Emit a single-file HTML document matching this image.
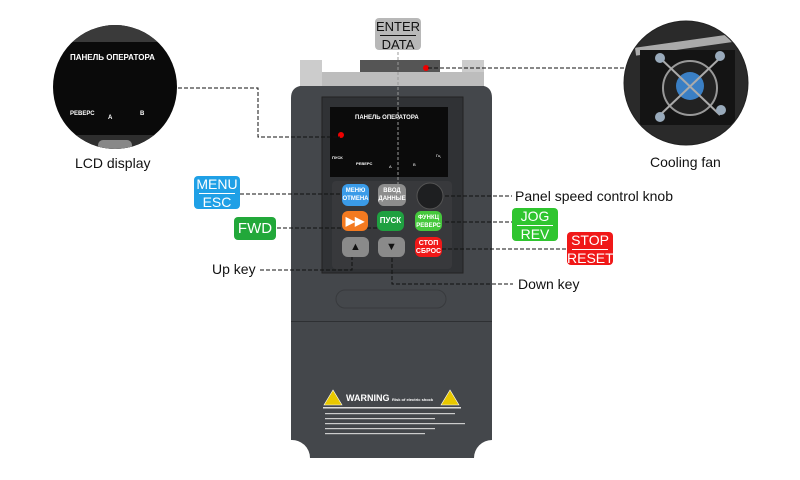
<!DOCTYPE html>
<html><head><meta charset="utf-8"><style>
*{margin:0;padding:0;box-sizing:border-box}
body{width:800px;height:480px;background:#fff;position:relative;overflow:hidden;font-family:"Liberation Sans",Arial,sans-serif}
.a{position:absolute}
.badge{position:absolute;border-radius:4px;color:#fff;font-size:14px;text-align:center;line-height:15px;padding-top:1px}
.badge hr{border:0;border-top:1px solid #fff;margin:1px 5px}
.lbl{position:absolute;font-size:14px;color:#111;white-space:nowrap}
.btn{position:absolute;border-radius:6px;color:#fff;font-weight:bold;text-align:center;font-size:6px;line-height:8px}
</style></head><body>
<svg class="a" style="left:0;top:0" width="800" height="480" viewBox="0 0 800 480">
<defs>
<clipPath id="c1"><circle cx="115" cy="87" r="62"/></clipPath>
<clipPath id="c2"><circle cx="686" cy="83" r="62"/></clipPath>
</defs>
<rect x="300" y="60" width="22" height="30" fill="#ccc"/>
<rect x="462" y="60" width="22" height="30" fill="#ccc"/>
<rect x="360" y="60" width="80" height="14" fill="#555"/>
<rect x="322" y="72" width="162" height="18" fill="#bdbdbd"/>
<path d="M291 98 Q291 88 300 86 L484 86 Q492 88 492 98 L492 440 A18 18 0 0 0 474 458 L310 458 A18 18 0 0 0 291 440 Z" fill="#44474b"/>
<rect x="291" y="321" width="201" height="1" fill="#2e3033"/>
<rect x="336" y="290" width="110" height="18" rx="9" fill="none" stroke="#383a3d"/>
<rect x="322" y="97" width="141" height="176" fill="#303235" stroke="#222" />
<rect x="330" y="107" width="118" height="70" fill="#0b0b0b"/>
<rect x="332" y="181" width="120" height="88" rx="4" fill="#38393c"/>
<circle cx="341" cy="135" r="3" fill="#e00"/>
<circle cx="426" cy="68" r="3" fill="#e00"/>
<circle cx="430" cy="196" r="13" fill="#1e1f21" stroke="#555"/>
<polygon points="333,390 324,405 342,405" fill="#e8c800" stroke="#fff" stroke-width="0.6"/>
<polygon points="450,390 441,405 459,405" fill="#e8c800" stroke="#fff" stroke-width="0.6"/>
<rect x="323" y="407" width="138" height="1.5" fill="#ddd"/>
<g fill="#ccc"><rect x="325" y="413" width="130" height="1.2"/><rect x="325" y="418" width="110" height="1.2"/><rect x="325" y="423" width="140" height="1.2"/><rect x="325" y="428" width="110" height="1.2"/><rect x="325" y="433" width="100" height="1.2"/></g>
<g clip-path="url(#c1)"><rect x="50" y="20" width="130" height="140" fill="#0a0a0a"/><rect x="50" y="20" width="130" height="22" fill="#3a3a3a"/><rect x="50" y="135" width="130" height="20" fill="#2e2e2e"/><rect x="98" y="140" width="34" height="12" rx="5" fill="#888"/></g>
<g clip-path="url(#c2)"><rect x="620" y="20" width="135" height="130" fill="#2a2a2a"/><rect x="635" y="40" width="110" height="8" fill="#aaa" transform="rotate(-8 690 44)"/><rect x="640" y="50" width="95" height="75" fill="#141414"/><circle cx="690" cy="88" r="27" fill="#222" stroke="#999" stroke-width="2"/><circle cx="690" cy="86" r="14" fill="#3a7fc4"/><line x1="660" y1="58" x2="720" y2="115" stroke="#aaa" stroke-width="2"/><line x1="720" y1="58" x2="660" y2="115" stroke="#aaa" stroke-width="2"/><circle cx="660" cy="58" r="5" fill="#9ab"/><circle cx="720" cy="56" r="5" fill="#9ab"/><circle cx="660" cy="117" r="5" fill="#9ab"/><circle cx="721" cy="110" r="5" fill="#9ab"/></g>
<circle cx="686" cy="83" r="62" fill="none" stroke="#222" stroke-width="1"/>
<g stroke="#111" stroke-width="1" fill="none" stroke-dasharray="4,2">
<path d="M178 88 H258 V137 H340"/>
<path d="M428 68 H626"/>
<path d="M240 194 H342"/>
<path d="M277 228 H380"/>
<path d="M445 196 H512"/>
<path d="M445 222 H512"/>
<path d="M442 249 H567"/>
<path d="M260 270 H352 V250"/>
<path d="M392 252 V284 H513"/>
</g>
<path d="M398 52 V190" stroke="#999" stroke-dasharray="3,2" fill="none"/>
</svg>
<div class="a" style="left:70px;top:53px;color:#fff;font-size:8px;font-weight:bold">ПАНЕЛЬ ОПЕРАТОРА</div>
<div class="a" style="left:70px;top:111px;color:#fff;font-size:6px;font-weight:bold">РЕВЕРС</div>
<div class="a" style="left:108px;top:115px;color:#fff;font-size:6px;font-weight:bold">A</div>
<div class="a" style="left:140px;top:111px;color:#fff;font-size:6px;font-weight:bold">B</div>
<div class="a" style="left:355px;top:115px;color:#fff;font-size:6px;font-weight:bold">ПАНЕЛЬ ОПЕРАТОРА</div>
<div class="a" style="left:332px;top:155px;color:#fff;font-size:4px;font-weight:bold">ПУСК</div>
<div class="a" style="left:356px;top:161px;color:#fff;font-size:4px;font-weight:bold">РЕВЕРС</div>
<div class="a" style="left:389px;top:164px;color:#fff;font-size:4px">A</div>
<div class="a" style="left:413px;top:162px;color:#fff;font-size:4px">B</div>
<div class="a" style="left:436px;top:153px;color:#fff;font-size:4px">Гц</div>
<div class="btn" style="left:342px;top:184px;width:27px;height:22px;background:#3a9be8;padding-top:3px">МЕНЮ<br>ОТМЕНА</div>
<div class="btn" style="left:378px;top:184px;width:28px;height:22px;background:#8d8d8d;padding-top:3px">ВВОД<br>ДАННЫЕ</div>
<div class="btn" style="left:342px;top:211px;width:26px;height:20px;background:#f47a20;font-size:12px;line-height:20px">▶▶</div>
<div class="btn" style="left:377px;top:211px;width:27px;height:20px;background:#1fa040;font-size:8px;line-height:20px">ПУСК</div>
<div class="btn" style="left:415px;top:211px;width:27px;height:20px;background:#45c83c;padding-top:3px">ФУНКЦ<br>РЕВЕРС</div>
<div class="btn" style="left:342px;top:237px;width:27px;height:20px;background:#8a8a8a;color:#111;font-size:11px;line-height:20px">▲</div>
<div class="btn" style="left:378px;top:237px;width:27px;height:20px;background:#8a8a8a;color:#111;font-size:11px;line-height:20px">▼</div>
<div class="btn" style="left:415px;top:237px;width:27px;height:20px;background:#f01818;padding-top:3px;font-size:7px">СТОП<br>СБРОС</div>
<div class="a" style="left:346px;top:393px;color:#fff;font-size:9px;font-weight:bold">WARNING <span style="font-size:4px">Risk of electric shock</span></div>
<div class="badge" style="left:375px;top:18px;width:46px;height:32px;background:#b8b8b8;color:#111;font-size:13px">ENTER<hr style="border-color:#111">DATA</div>
<div class="badge" style="left:194px;top:176px;width:46px;height:33px;background:#1fa0e6">MENU<hr>ESC</div>
<div class="badge" style="left:234px;top:217px;width:42px;height:23px;background:#22a83a;font-size:15px;line-height:21px">FWD</div>
<div class="badge" style="left:512px;top:208px;width:46px;height:33px;background:#2fc52f">JOG<hr>REV</div>
<div class="badge" style="left:567px;top:232px;width:46px;height:33px;background:#f01818">STOP<hr>RESET</div>
<div class="lbl" style="left:75px;top:155px">LCD display</div>
<div class="lbl" style="left:650px;top:154px">Cooling fan</div>
<div class="lbl" style="left:515px;top:188px">Panel speed control knob</div>
<div class="lbl" style="left:212px;top:261px">Up key</div>
<div class="lbl" style="left:518px;top:276px">Down key</div>
</body></html>
